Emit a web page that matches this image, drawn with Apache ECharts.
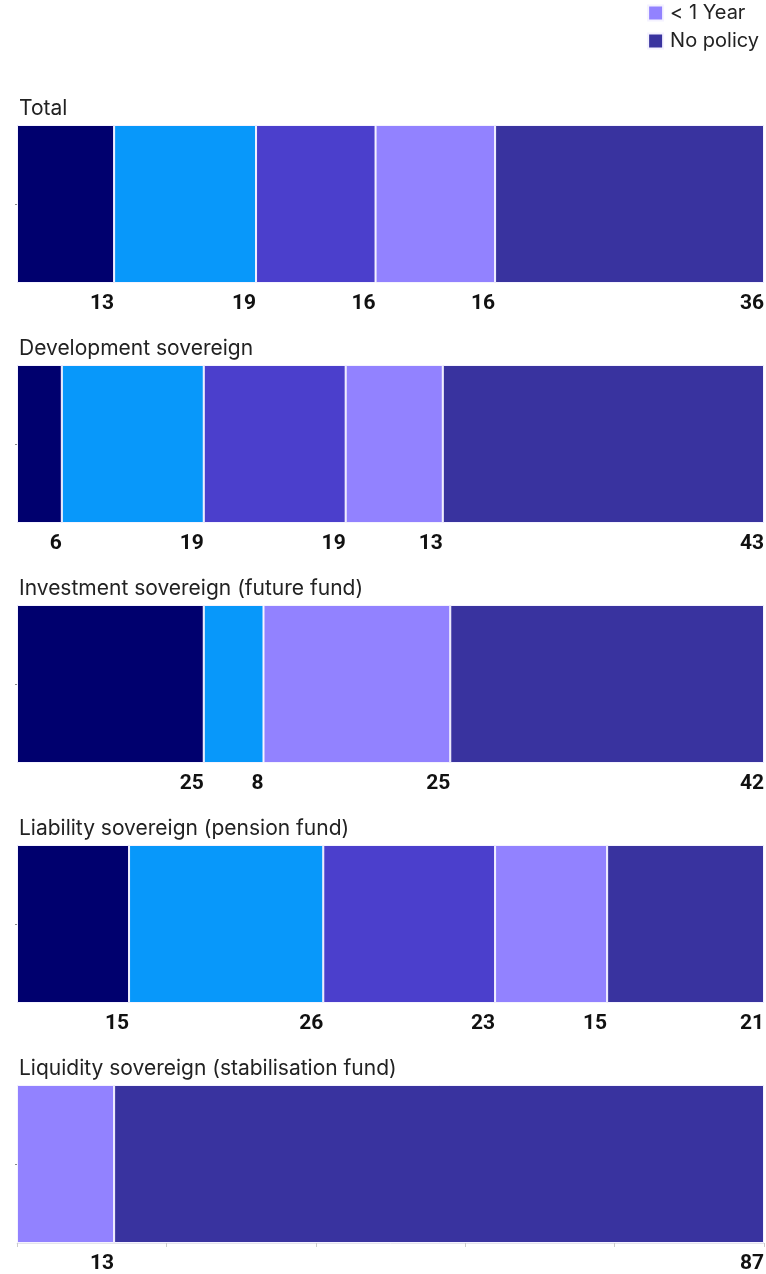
<!DOCTYPE html>
<html>
<head>
<meta charset="utf-8">
<script src="https://cdn.jsdelivr.net/npm/echarts@6/dist/echarts.min.js"></script>
<style>html,body{margin:0;padding:0;background:#fff;}#c{width:766px;height:1274px;}</style>
</head>
<body>
<div id="c"></div>
<script>
var categories = ['Total', 'Development sovereign', 'Investment sovereign (future fund)', 'Liability sovereign (pension fund)', 'Liquidity sovereign (stabilisation fund)'];
var seriesNames = ['> 5 Years', '3-5 Years', '1-3 Years', '< 1 Year', 'No policy'];
var s1 = [13, 6, 25, 15, 0];
var s2 = [19, 19, 8, 26, 0];
var s3 = [16, 19, 0, 23, 0];
var s4 = [16, 13, 25, 15, 13];
var s5 = [36, 43, 42, 21, 87];
var legendItems = ['< 1 Year', 'No policy'];
var xTicks = [0, 20, 40, 60, 80, 100];

var colors = ['#00006e', '#0898fa', '#4b3fcc', '#9282ff', '#39339f'];
var values = [s1, s2, s3, s4, s5];
var gridTops = [125, 365, 605, 845, 1085];
var gridH = 158;

var grids = [], xAxes = [], yAxes = [], titles = [], series = [];
categories.forEach(function (cat, p) {
  grids.push({left: 17, right: 2, top: gridTops[p], height: gridH});
  var last = p === categories.length - 1;
  xAxes.push({
    type: 'value', gridIndex: p, min: xTicks[0], max: xTicks[xTicks.length - 1], interval: xTicks[1] - xTicks[0],
    splitLine: {show: false}, axisLabel: {show: false},
    axisLine: {show: last, lineStyle: {color: '#e4e4ec'}},
    axisTick: {show: last, length: 4, lineStyle: {color: '#cccccc'}}
  });
  yAxes.push({
    type: 'category', gridIndex: p, data: [cat],
    axisLine: {show: false}, axisLabel: {show: false},
    axisTick: {show: true, length: 2, alignWithLabel: true, lineStyle: {color: '#888'}}
  });
  titles.push({
    text: cat, left: 14, top: gridTops[p] - 32,
    textStyle: {fontFamily: 'Inter', fontWeight: 'normal', fontSize: 21, color: '#222'}
  });
  seriesNames.forEach(function (nm, s) {
    var v = values[s][p];
    series.push({
      name: nm, type: 'bar', stack: 'st' + p, xAxisIndex: p, yAxisIndex: p,
      barWidth: '100%',
      data: [v === 0 ? null : v],
      itemStyle: {color: colors[s], borderColor: '#f4f2ff', borderWidth: 1},
      label: {
        show: true, position: ['100%', '100%'], align: 'right', verticalAlign: 'top',
        offset: [0, 10],
        fontFamily: 'Roboto', fontWeight: 'bold', fontSize: 21, color: '#111',
        formatter: function (d) { return d.value ? String(d.value) : ''; }
      },
      emphasis: {disabled: true}
    });
  });
});

var chart = echarts.init(document.getElementById('c'), null, {renderer: 'canvas'});
chart.setOption({
  animation: false,
  title: titles,
  legend: {
    data: legendItems, orient: 'vertical', right: 2, top: -2,
    itemWidth: 15, itemHeight: 15, itemGap: 8, icon: 'rect',
    textStyle: {fontFamily: 'Inter', fontSize: 20, color: '#222', padding: [0, 0, 0, 2]}
  },
  grid: grids, xAxis: xAxes, yAxis: yAxes, series: series
});
</script>
</body>
</html>
